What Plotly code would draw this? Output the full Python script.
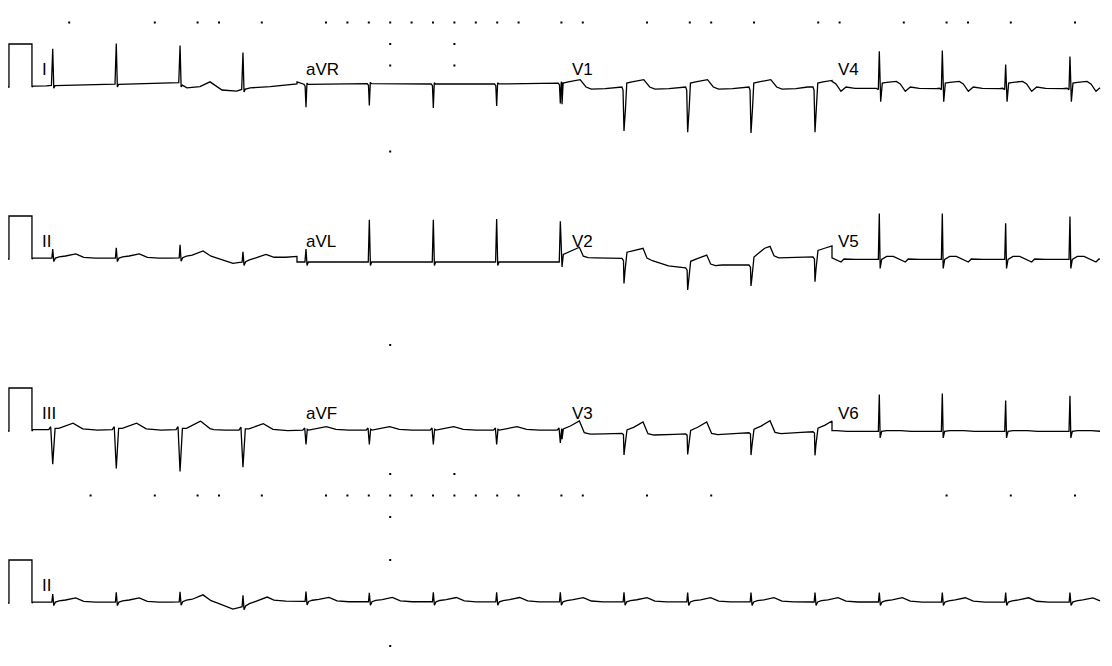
import numpy as np
import plotly.graph_objects as go

# ---------------- data (times in s, amplitudes in mV) ----------------
beat_t = [0.446, 1.040, 1.636, 2.224, 2.813, 3.405, 4.003, 4.595, 5.190,
          5.785, 6.380, 6.972, 7.570, 8.171, 8.760, 9.352, 9.953]
win_edges = [0.262, 2.729, 5.206, 7.729, 10.234]
row_leads = [["I", "aVR", "V1", "V4"], ["II", "aVL", "V2", "V5"], ["III", "aVF", "V3", "V6"]]
rhythm_lead = "II"
row_gap_mv = 4.0
label_t = [0.323, 2.797, 5.280, 7.765]
label_dy_mv = 0.13

cal_t = [0.0, 0.037, 0.037, 0.252, 0.252]
cal_mv = [0.0, 0.0, 1.0, 1.0, 0.0]

# lead I
I_tpl_ms = [-60, -12, 0, 10, 22, 60]
I_tpl_mv = [0, 0.01, 0.9, -0.06, 0, 0]
I_beats = [0, 1, 2, 3]
I_peaks = [0.86, 0.95, 0.89, 0.86]
I_wt = [0.262, 0.888, 1.542, 1.62, 1.70, 1.822, 1.916, 2.028, 2.159, 2.290, 2.477, 2.729]
I_wmv = [0.02, 0.05, 0.09, 0.10, -0.02, 0.01, 0.12, -0.07, -0.10, -0.02, 0.01, 0.07]

# lead aVR
aVR_tpl_ms = [-20, -8, 0, 9, 20]
aVR_tpl_mv = [0, -0.04, -0.52, 0.03, 0]
aVR_beats = [4, 5, 6, 7, 8]
aVR_peaks = [-0.53, -0.51, -0.56, -0.51, -0.47]
aVR_wt = [2.729, 2.80, 3.3, 4.0, 4.6, 5.206]
aVR_wmv = [0.12, 0.06, 0.08, 0.07, 0.07, 0.09]

# lead V1
V1_tpl_ms = [-19, -9, 0, 14, 26, 75, 140, 185, 240, 290, 420, 530]
V1_tpl_mv = [0, -0.07, -1.0, -0.5, 0.09, 0.12, 0.14, 0.17, 0.0, -0.05, -0.04, 0.0]
V1_beats = [8, 9, 10, 11, 12]
V1_peaks = [-0.5, -1.02, -1.05, -1.07, -1.05]
V1_wt = [5.206, 7.729]
V1_wmv = [0.0, 0.0]

# lead V4
V4_tpl_ms = [-28, -9, 0, 13, 28, 69, 159, 196, 243, 290, 374, 533]
V4_tpl_mv = [0, -0.03, 0.87, -0.31, 0.12, 0.14, 0.16, 0.10, -0.07, 0.03, 0, -0.01]
V4_beats = [12, 13, 14, 15, 16]
V4_peaks = [0.87, 0.86, 0.88, 0.55, 0.74]
V4_wt = [7.729, 10.234]
V4_wmv = [-0.03, -0.03]

# lead II
II_tpl_ms = [-30, -8, 0, 10, 25, 60, 120, 215, 290, 400]
II_tpl_mv = [0, 0, 0.22, -0.08, 0, 0.03, 0.05, 0.10, 0.02, 0]
II_beats = [0, 1, 2, 3]
II_peaks = [0.21, 0.24, 0.30, 0.24]
II_wt = [0.262, 1.55, 1.75, 1.85, 2.0, 2.13, 2.26, 2.4, 2.729]
II_wmv = [0.02, 0.02, 0.04, 0.09, 0.0, -0.10, -0.06, 0.0, 0.06]

# lead aVL
aVL_tpl_ms = [-40, -10, 0, 10, 22, 60]
aVL_tpl_mv = [0, 0, 0.95, -0.08, 0, 0]
aVL_beats = [4, 5, 6, 7, 8]
aVL_peaks = [0.3, 0.98, 0.98, 1.0, 0.95]
aVL_wt = [2.729, 5.206]
aVL_wmv = [-0.07, -0.07]

# lead V2
V2_tpl_ms = [-19, -5, 0, 9, 28, 90, 178, 215, 260, 330]
V2_tpl_mv = [0, -0.05, -0.58, -0.3, 0.15, 0.2, 0.27, 0.05, 0.0, 0.0]
V2_beats = [8, 9, 10, 11, 12]
V2_peaks = [-0.5, -0.58, -0.51, -0.49, -0.58]
V2_wt = [5.206, 5.45, 5.75, 6.05, 6.20, 6.37, 6.55, 6.70, 6.97, 7.10, 7.57, 7.729]
V2_wmv = [-0.05, 0.03, 0.02, -0.04, -0.16, -0.21, -0.18, -0.14, -0.14, 0.02, 0.05, 0.05]

# lead V5
V5_tpl_ms = [-28, -9, 0, 8, 22, 69, 131, 206, 243, 271, 374]
V5_tpl_mv = [0, 0, 1.07, -0.21, 0, 0.07, 0.07, -0.02, -0.06, 0.01, 0]
V5_beats = [12, 13, 14, 15, 16]
V5_peaks = [1.0, 1.07, 1.07, 0.84, 1.0]
V5_wt = [7.729, 10.234]
V5_wmv = [-0.01, -0.01]

# lead III
III_tpl_ms = [-37, -19, 0, 22, 56, 190, 280, 420]
III_tpl_mv = [0, 0.07, -0.85, 0.03, 0.03, 0.15, 0.02, -0.01]
III_beats = [0, 1, 2, 3]
III_peaks = [-0.8, -0.9, -0.97, -0.86]
III_wt = [0.262, 1.70, 1.83, 1.95, 2.729]
III_wmv = [0.03, 0.03, 0.08, 0.02, 0.02]

# lead aVF
aVF_tpl_ms = [-30, -12, 0, 12, 25, 190, 280, 400]
aVF_tpl_mv = [0, 0.05, -0.35, 0.02, 0, 0.08, 0.02, 0]
aVF_beats = [4, 5, 6, 7, 8]
aVF_peaks = [-0.33, -0.33, -0.33, -0.33, -0.3]
aVF_wt = [2.729, 5.206]
aVF_wmv = [0.02, 0.02]

# lead V3
V3_tpl_ms = [-19, -5, 0, 9, 28, 94, 178, 224, 280, 470]
V3_tpl_mv = [0, -0.03, -0.51, -0.3, 0.08, 0.15, 0.27, 0.0, -0.03, -0.01]
V3_beats = [8, 9, 10, 11, 12]
V3_peaks = [-0.45, -0.50, -0.48, -0.52, -0.55]
V3_wt = [5.206, 5.6, 6.3, 6.97, 7.729]
V3_wmv = [-0.03, -0.05, -0.07, -0.04, -0.01]

# lead V6
V6_tpl_ms = [-28, -9, 0, 8, 22, 69, 200, 300]
V6_tpl_mv = [0, 0, 0.85, -0.15, 0, 0.02, 0.02, 0]
V6_beats = [12, 13, 14, 15, 16]
V6_peaks = [0.85, 0.86, 0.88, 0.72, 0.83]
V6_wt = [7.729, 10.234]
V6_wmv = [-0.01, -0.01]

# rhythm strip (lead II, full 10 s)
R_peaks = [0.19, 0.23, 0.23, 0.26, 0.23, 0.21, 0.22, 0.22, 0.22, 0.22, 0.22, 0.22, 0.22, 0.22, 0.22, 0.22, 0.22]
R_wt = [0.262, 1.55, 1.75, 1.85, 2.0, 2.13, 2.26, 2.45, 3.0, 10.234]
R_wmv = [0.02, 0.02, 0.04, 0.09, -0.02, -0.14, -0.06, 0.05, 0.03, 0.02]

# grid dots: (column index k in 0.2 s steps, row index m in 0.5 mV steps from top)
dot_k = [3, 7, 9, 10, 12, 15, 16, 17, 18, 19, 20, 21, 22, 23, 24, 26, 27, 30, 32, 33, 35, 38, 39, 42, 44, 45, 47, 50,
         18, 21, 18, 21, 18, 18, 18, 21, 18, 18, 18,
         4, 7, 9, 10, 12, 15, 16, 17, 18, 19, 20, 21, 22, 23, 24, 26, 27, 30, 33, 44, 47, 50]
dot_m = [0] * 28 + [1, 1, 2, 2, 6, 15, 21, 21, 23, 25, 29] + [22] * 22
dot_top_mv = 1.5

# ---------------- build ----------------
leads = {}
for name in ["I", "aVR", "V1", "V4", "II", "aVL", "V2", "V5", "III", "aVF", "V3", "V6"]:
    g = globals()
    leads[name] = dict(tpl_ms=g[name + "_tpl_ms"], tpl_mv=g[name + "_tpl_mv"], beats=g[name + "_beats"],
                       peaks=g[name + "_peaks"], wt=g[name + "_wt"], wmv=g[name + "_wmv"])


def build(spec, t0, t1, beats=None, peaks=None, wt=None, wmv=None):
    beats = spec["beats"] if beats is None else beats
    peaks = spec["peaks"] if peaks is None else peaks
    wt = spec["wt"] if wt is None else wt
    wmv = spec["wmv"] if wmv is None else wmv
    tpl_t = np.array(spec["tpl_ms"]) / 1000.0
    base_mv = np.array(spec["tpl_mv"], dtype=float)
    pk = int(np.argmax(np.abs(base_mv)))
    pts = set([t0, t1])
    for b in beats:
        pts.update((beat_t[b] + tpl_t).tolist())
    pts.update(wt)
    ts = np.array(sorted(p for p in pts if t0 <= p <= t1))
    v = np.interp(ts, wt, wmv)
    for b, p in zip(beats, peaks):
        mv = base_mv.copy()
        mv[pk] = p
        rel = ts - beat_t[b]
        inside = (rel >= tpl_t[0]) & (rel <= tpl_t[-1])
        v[inside] += np.interp(rel[inside], tpl_t, mv)
    return ts, v


fig = go.Figure()
annotations = []
for r in range(4):
    off = -row_gap_mv * r
    xs = list(cal_t)
    ys = [c + off for c in cal_mv]
    if r < 3:
        for c, name in enumerate(row_leads[r]):
            ts, v = build(leads[name], win_edges[c], win_edges[c + 1])
            xs += ts.tolist()
            ys += (v + off).tolist()
            annotations.append((label_t[c], off + label_dy_mv, name))
    else:
        ts, v = build(leads[rhythm_lead], win_edges[0], win_edges[-1], beats=list(range(len(beat_t))),
                      peaks=R_peaks, wt=R_wt, wmv=R_wmv)
        xs += ts.tolist()
        ys += (v + off).tolist()
        annotations.append((label_t[0], off + label_dy_mv, rhythm_lead))
    fig.add_trace(go.Scatter(x=xs, y=ys, mode="lines", line=dict(color="black", width=1.3),
                             hoverinfo="skip", showlegend=False))

fig.add_trace(go.Scatter(x=[k * 0.2 for k in dot_k], y=[dot_top_mv - 0.5 * m for m in dot_m], mode="markers",
                         marker=dict(symbol="square", size=2, color="black", line=dict(width=0)),
                         hoverinfo="skip", showlegend=False))

for (x, y, txt) in annotations:
    fig.add_annotation(x=x, y=y, text=txt, showarrow=False, xanchor="left", yanchor="bottom",
                       font=dict(family="Liberation Sans, Arial, sans-serif", size=17, color="black"))

# page body has an 8 px margin: the figure covers the window from (8, 8) on
fig.update_layout(width=1104, height=658, margin=dict(l=0, r=0, t=0, b=0),
                  paper_bgcolor="white", plot_bgcolor="white",
                  xaxis=dict(range=[0.02804, 10.3458], visible=False, fixedrange=True),
                  yaxis=dict(range=[-13.465, 1.8372], visible=False, fixedrange=True))
fig.write_html("out.html")
